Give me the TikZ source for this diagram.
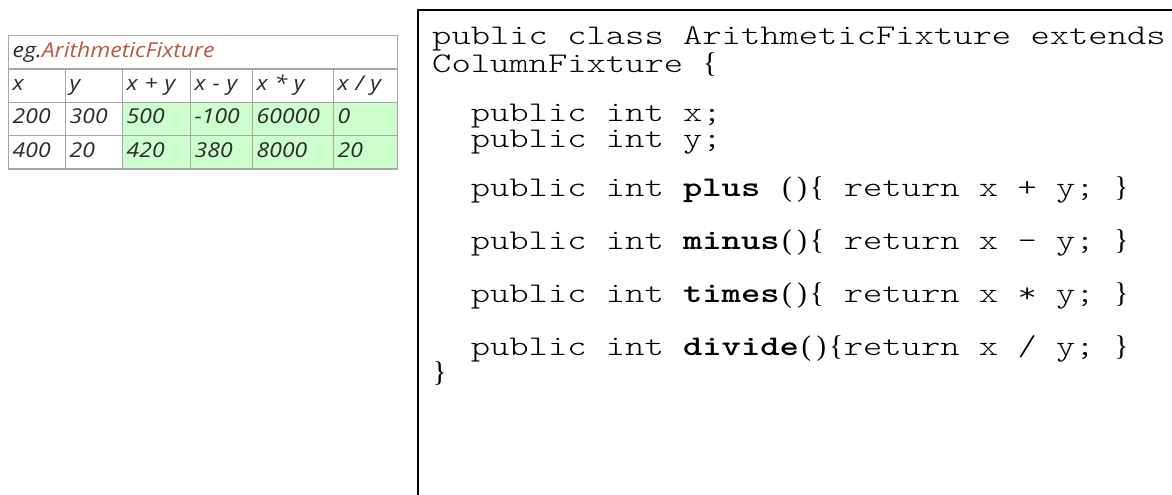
\documentclass[tikz,border=0pt]{standalone}
\usepackage{fontspec}
\setmonofont{lmmonolt10-regular.otf}[BoldFont=lmmonolt10-bold.otf, FakeStretch=1.29]
\newfontfamily\bracefont{Liberation Serif}
\newfontfamily\tabfont{Open Sans}[FakeStretch=1.12]
\usetikzlibrary{positioning}
\definecolor{gridgray}{HTML}{A6A6A6}
\definecolor{passgreen}{HTML}{CCFFCC}
\definecolor{fixred}{HTML}{B8583F}
\definecolor{celltext}{HTML}{2A2A2A}
\newcommand\cbr[1]{\makebox[0.525em][c]{\smash{\bracefont #1}}} % serif brace in a mono slot
\tikzset{cell/.style={ % Sets the properties for each table cell
draw=gridgray, line width=1.4pt,
anchor=north west, minimum height=33.3pt,
inner xsep=4pt, inner ysep=0pt,
text height=14pt, text depth=4pt, align=left,
font=\tabfont\itshape\fontsize{20.5}{20.5}\selectfont, text=celltext},
pass/.style={cell, fill=passgreen}, % Cells of computed results
codeline/.style={ % Sets the properties for each line of code
anchor=base west, inner sep=0pt,
font=\ttfamily\fontsize{28.5}{28.5}\selectfont}}

\begin{document}
\begin{tikzpicture}[x=1pt, y=-1pt]
    \useasboundingbox (0,0) rectangle (1172,495);
    % table
    \node[cell, text width=381pt, minimum width=389pt] (title) at (8,35) {eg.\textcolor{fixred}{ArithmeticFixture}};
    \node[cell, text width=49pt, minimum width=57pt] (hx) at (8,68.3) {x};
    \node[cell, text width=49pt, minimum width=57pt] (hy) at (65,68.3) {y};
    \node[cell, text width=60pt, minimum width=68pt] (hplus) at (122,68.3) {x + y};
    \node[cell, text width=54pt, minimum width=62pt] (hminus) at (190,68.3) {x - y};
    \node[cell, text width=73pt, minimum width=81pt] (htimes) at (252,68.3) {x * y};
    \node[cell, text width=56pt, minimum width=64pt] (hdiv) at (333,68.3) {x / y};
    \node[cell, text width=49pt, minimum width=57pt] (ax) at (8,101.6) {200};
    \node[cell, text width=49pt, minimum width=57pt] (ay) at (65,101.6) {300};
    \node[pass, text width=60pt, minimum width=68pt] (aplus) at (122,101.6) {500};
    \node[pass, text width=54pt, minimum width=62pt] (aminus) at (190,101.6) {-100};
    \node[pass, text width=73pt, minimum width=81pt] (atimes) at (252,101.6) {60000};
    \node[pass, text width=56pt, minimum width=64pt] (adiv) at (333,101.6) {0};
    \node[cell, text width=49pt, minimum width=57pt] (bx) at (8,134.9) {400};
    \node[cell, text width=49pt, minimum width=57pt] (by) at (65,134.9) {20};
    \node[pass, text width=60pt, minimum width=68pt] (bplus) at (122,134.9) {420};
    \node[pass, text width=54pt, minimum width=62pt] (bminus) at (190,134.9) {380};
    \node[pass, text width=73pt, minimum width=81pt] (btimes) at (252,134.9) {8000};
    \node[pass, text width=56pt, minimum width=64pt] (bdiv) at (333,134.9) {20};
    % code listing
    \coordinate (boxbottom) at (418,496);
    \coordinate (boxcorner) at (418,10);
    \coordinate (boxright) at (1173,10);
    \draw[line width=2pt] (boxbottom) -- (boxcorner) -- (boxright);
    \node[codeline] (c1) at (432,44.5) {public class ArithmeticFixture extends};
    \node[codeline] (c2) at (432,72.5) {ColumnFixture \cbr{\{}};
    \node[codeline] (c3) at (470.6,121) {public int x;};
    \node[codeline] (c4) at (470.6,147) {public int y;};
    \node[codeline] (c5) at (470.6,196) {public int \textbf{plus} \cbr{(}\cbr{)}\cbr{\{} return x + y; \cbr{\}}};
    \node[codeline] (c6) at (470.6,249) {public int \textbf{minus}\cbr{(}\cbr{)}\cbr{\{} return x - y; \cbr{\}}};
    \node[codeline] (c7) at (470.6,302) {public int \textbf{times}\cbr{(}\cbr{)}\cbr{\{} return x * y; \cbr{\}}};
    \node[codeline] (c8) at (470.6,355) {public int \textbf{divide}\cbr{(}\cbr{)}\cbr{\{}return x / y; \cbr{\}}};
    \node[codeline] (c9) at (432,381) {\cbr{\}}};
\end{tikzpicture}
\end{document}
